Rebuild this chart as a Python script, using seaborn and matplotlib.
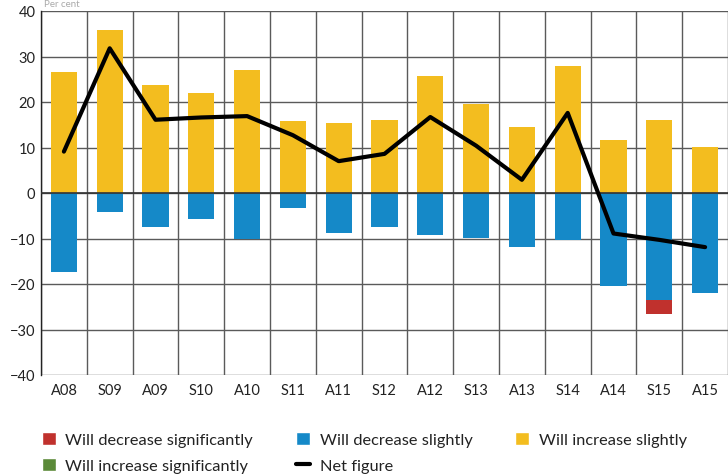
import numpy as np
import pandas as pd
import matplotlib
matplotlib.use("Agg")
import matplotlib.pyplot as plt
from matplotlib.patches import Patch
from matplotlib.lines import Line2D
import seaborn as sns

# ----------------------------
# Data
# ----------------------------
periods = ["A08", "S09", "A09", "S10", "A10", "S11", "A11", "S12",
           "A12", "S13", "A13", "S14", "A14", "S15", "A15"]
increase_slightly = [26.6, 35.8, 23.7, 22.0, 27.0, 15.8, 15.4, 16.0,
                     25.7, 19.6, 14.5, 27.9, 11.6, 16.0, 10.1]
decrease_slightly = [-17.4, -4.2, -7.5, -5.7, -10.1, -3.3, -8.8, -7.5,
                     -9.2, -9.9, -11.9, -10.3, -20.4, -23.5, -22.0]
decrease_significantly = [0, 0, 0, 0, 0, 0, 0, 0, 0, 0, 0, 0, 0, -3.1, 0]
increase_significantly = [0, 0, 0, 0, 0, 0, 0, 0, 0, 0, 0, 0, 0, 0, 0]
net_figure = [9.1, 31.8, 16.1, 16.6, 16.9, 12.7, 7.0, 8.6,
              16.7, 10.4, 2.9, 17.6, -8.9, -10.3, -11.9]

c_red = "#c0312d"
c_blue = "#1589c8"
c_yellow = "#f3bd1f"
c_green = "#5b8a39"

df = pd.DataFrame({
    "period": periods,
    "inc_s": increase_slightly,
    "dec_s": decrease_slightly,
    "dec_sig": decrease_significantly,
    "inc_sig": increase_significantly,
    "net": net_figure,
})
df["dec_total"] = df["dec_s"] + df["dec_sig"]
df["inc_total"] = df["inc_s"] + df["inc_sig"]

# ----------------------------
# Plot
# ----------------------------
sns.set_style("white")
plt.rcParams["font.family"] = ["Lato", "DejaVu Sans"]

fig = plt.figure(figsize=(7.28, 4.77), dpi=100)
ax = fig.add_axes([41 / 728, 1 - 376 / 477, 1 - 41 / 728, 364 / 477])

bar_w = 0.57
bar_kw = dict(width=bar_w, edgecolor="none", saturation=1, zorder=3, ax=ax)
sns.barplot(data=df, x="period", y="inc_total", color=c_green, **bar_kw)
sns.barplot(data=df, x="period", y="inc_s", color=c_yellow, **bar_kw)
sns.barplot(data=df, x="period", y="dec_total", color=c_red, **bar_kw)
sns.barplot(data=df, x="period", y="dec_s", color=c_blue, **bar_kw)

sns.lineplot(x=np.arange(len(periods)), y=df["net"], color="black",
             linewidth=3, zorder=4, ax=ax)

ax.set_xlim(-0.5, len(periods) - 0.5)
ax.set_ylim(-40, 40)
ax.set_yticks(range(-40, 41, 10))
ax.set_xticks(range(len(periods)))
ax.set_xticklabels(periods)
ax.set_xticks(np.arange(-0.5, len(periods), 1), minor=True)
ax.set_xlabel("")
ax.set_ylabel("")

ax.grid(True, axis="y", color="#5a5a5a", linewidth=1, zorder=0)
ax.grid(True, axis="x", which="minor", color="#5a5a5a", linewidth=1, zorder=0)
ax.grid(False, axis="x", which="major")
ax.axhline(0, color="#333333", linewidth=1.2, zorder=3.5)
ax.set_axisbelow(True)

for s in ["top", "right", "bottom"]:
    ax.spines[s].set_visible(False)
ax.spines["left"].set_color("#222222")
ax.spines["left"].set_linewidth(1)
ax.tick_params(axis="both", which="both", length=0, labelsize=10.5,
               colors="#222222")
ax.tick_params(axis="x", pad=6)
ax.tick_params(axis="y", pad=4)

fig.text(0.06, 0.999, "Per cent", color="#aaaaaa", fontsize=7, va="top")

# ----------------------------
# Legend
# ----------------------------
handles = [
    Patch(facecolor=c_red, label="Will decrease significantly"),
    Patch(facecolor=c_green, label="Will increase significantly"),
    Patch(facecolor=c_blue, label="Will decrease slightly"),
    Line2D([0], [0], color="black", linewidth=3, label="Net figure"),
    Patch(facecolor=c_yellow, label="Will increase slightly"),
]
fig.legend(handles=handles, ncol=3, loc="upper left",
           bbox_to_anchor=(0.037, 1 - 418 / 477), frameon=False,
           fontsize=11.8, handlelength=0.85, handleheight=0.85,
           handletextpad=0.6, columnspacing=2.6, labelspacing=0.65,
           labelcolor="#222222")

fig.savefig("out.png", dpi=100)
